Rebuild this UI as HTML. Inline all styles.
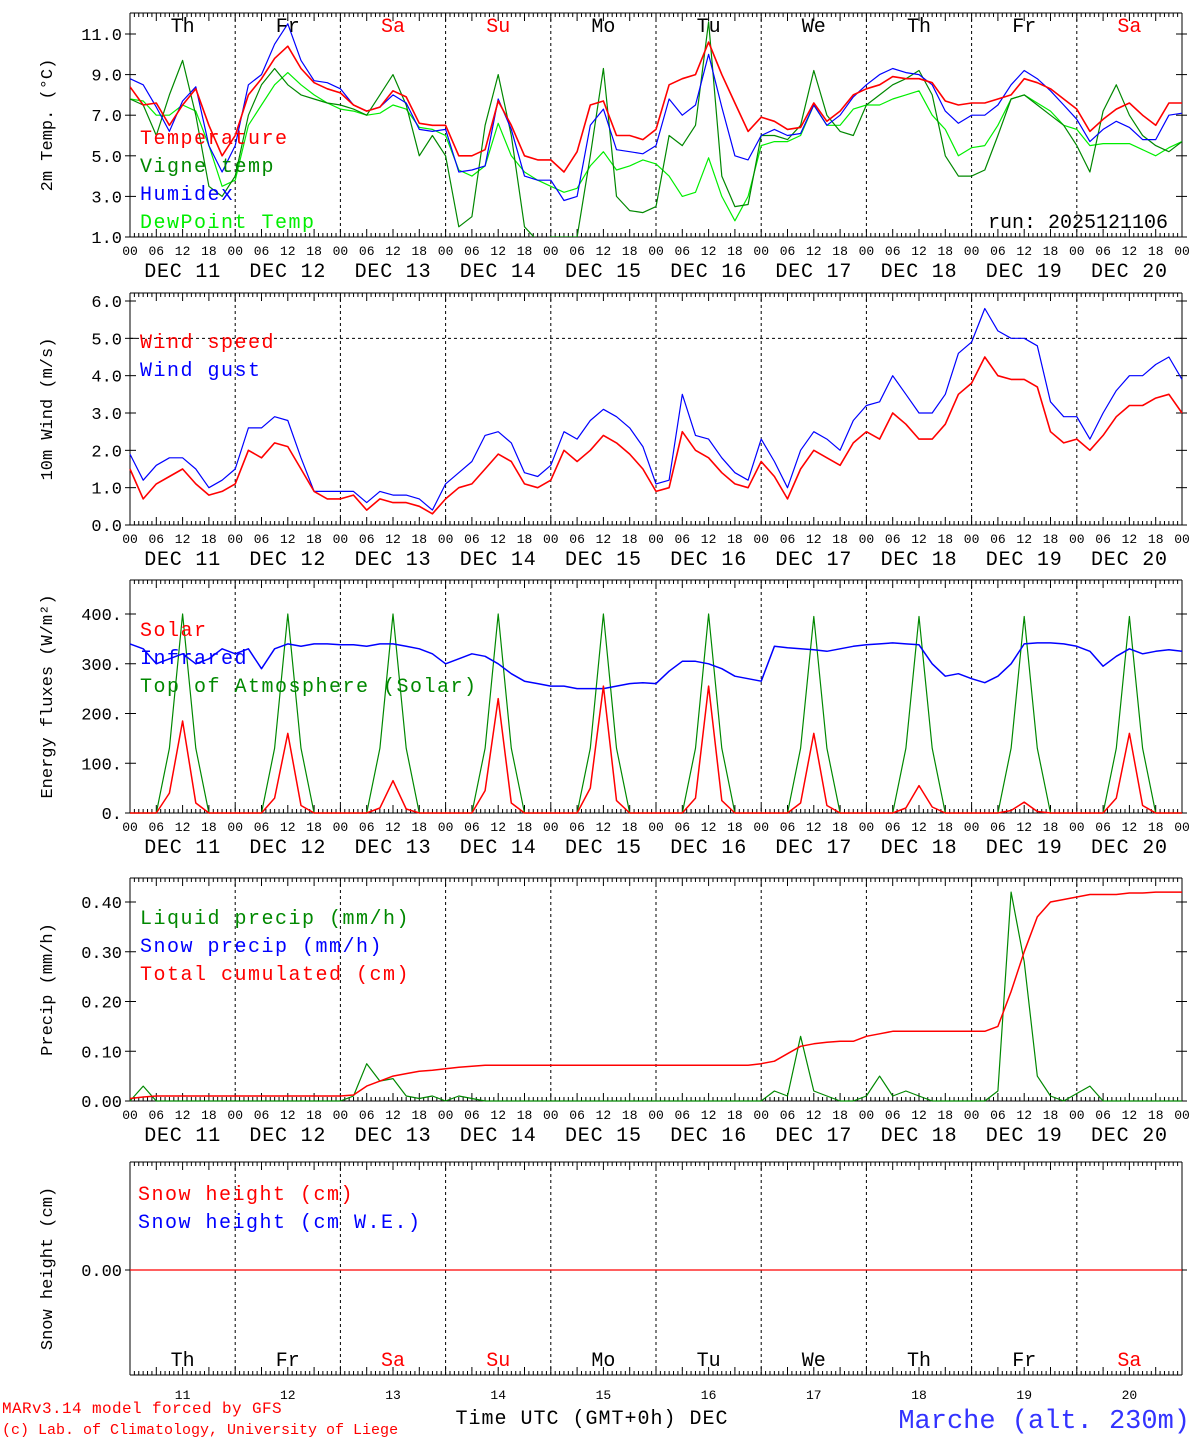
<!DOCTYPE html>
<html><head><meta charset="utf-8"><style>
body{margin:0;background:#fff}
svg{display:block}
text{font-family:"Liberation Serif","DejaVu Serif",serif}
.m{font-family:"Liberation Mono","DejaVu Sans Mono",monospace}
</style></head><body>
<svg id="c" width="1194" height="1440" viewBox="0 0 1194 1440" xmlns="http://www.w3.org/2000/svg"></svg>
<script>
// 3-hourly values starting DEC 11 00 UTC (81 points)
const dayLabels=["DEC 11","DEC 12","DEC 13","DEC 14","DEC 15","DEC 16","DEC 17","DEC 18","DEC 19","DEC 20"];
const dayNames=["Th","Fr","Sa","Su","Mo","Tu","We","Th","Fr","Sa"];
const dayNums=["11","12","13","14","15","16","17","18","19","20"];
const hourTicks=["00","06","12","18"];
const tempTicks=[1,3,5,7,9,11];
const windTicks=[0,1,2,3,4,5,6];
const fluxTicks=[0,100,200,300,400];
const precipTicks=[0,0.1,0.2,0.3,0.4];
const temperature=[8.4,7.5,7.6,6.5,7.5,8.3,6.5,5.0, 6.0,8.0,8.8,9.8,10.4,9.3,8.6,8.3, 8.1,7.5,7.2,7.4,8.2,7.9,6.6,6.5, 6.5,5.0,5.0,5.3,7.7,6.5,5.0,4.8, 4.8,4.2,5.2,7.5,7.7,6.0,6.0,5.8, 6.3,8.5,8.8,9.0,10.6,9.0,7.6,6.2, 6.9,6.7,6.3,6.4,7.6,6.7,7.2,8.0, 8.3,8.5,8.9,8.8,8.8,8.6,7.7,7.5, 7.6,7.6,7.8,8.0,8.8,8.6,8.3,7.8, 7.3,6.2,6.8,7.3,7.6,7.0,6.5,7.6,7.6];
const humidex=[8.8,8.5,7.4,6.2,7.7,8.4,5.5,4.2, 5.5,8.5,9.0,10.5,11.5,9.7,8.7,8.6, 8.3,7.5,7.2,7.4,8.0,7.6,6.3,6.2, 6.3,4.2,4.3,4.5,7.8,6.3,4.0,3.8, 3.8,2.8,3.0,6.5,7.3,5.3,5.2,5.1, 5.5,7.8,7.0,7.5,10.0,7.4,5.0,4.8, 6.0,6.3,6.0,6.1,7.5,6.5,7.0,7.9, 8.5,9.0,9.3,9.1,9.0,8.5,7.2,6.6, 7.0,7.0,7.5,8.5,9.2,8.8,8.2,7.5, 6.8,5.7,6.3,6.7,6.4,5.8,5.8,7.0,7.1];
const vigneTemp=[7.8,7.5,6.0,8.0,9.7,7.0,3.5,3.0, 4.0,7.0,8.5,9.3,8.5,8.0,7.8,7.6, 7.5,7.3,7.0,8.0,9.0,7.5,5.0,6.0, 5.0,1.5,2.0,6.5,9.0,6.0,1.5,0.8, 1.0,1.0,1.0,5.0,9.3,3.0,2.3,2.2, 2.5,6.0,5.5,6.5,11.6,4.0,2.5,2.6, 6.0,6.0,5.8,6.5,9.2,7.0,6.2,6.0, 7.5,8.0,8.5,8.8,9.2,8.0,5.0,4.0, 4.0,4.3,6.0,7.8,8.0,7.5,7.0,6.5, 5.5,4.2,7.2,8.5,7.0,6.0,5.5,5.2,5.7];
const dewPoint=[7.8,7.7,7.0,7.0,7.5,7.2,5.5,3.5, 3.8,6.5,7.5,8.5,9.1,8.5,8.0,7.6, 7.3,7.2,7.0,7.1,7.5,7.3,6.4,6.3, 6.0,4.3,4.0,4.5,6.6,5.0,4.2,3.8, 3.5,3.2,3.4,4.5,5.2,4.3,4.5,4.8, 4.6,4.0,3.0,3.2,4.9,3.0,1.8,3.0, 5.5,5.7,5.7,6.0,7.5,6.5,6.5,7.3, 7.5,7.5,7.8,8.0,8.2,7.0,6.3,5.0, 5.4,5.5,6.5,7.8,8.0,7.6,7.2,6.5, 6.3,5.5,5.6,5.6,5.6,5.3,5.0,5.4,5.7];
const windSpeed=[1.5,0.7,1.1,1.3,1.5,1.1,0.8,0.9, 1.1,2.0,1.8,2.2,2.1,1.5,0.9,0.7, 0.7,0.8,0.4,0.7,0.6,0.6,0.5,0.3, 0.7,1.0,1.1,1.5,1.9,1.7,1.1,1.0, 1.2,2.0,1.7,2.0,2.4,2.2,1.9,1.5, 0.9,1.0,2.5,2.0,1.8,1.4,1.1,1.0, 1.7,1.3,0.7,1.5,2.0,1.8,1.6,2.2, 2.5,2.3,3.0,2.7,2.3,2.3,2.7,3.5, 3.8,4.5,4.0,3.9,3.9,3.7,2.5,2.2, 2.3,2.0,2.4,2.9,3.2,3.2,3.4,3.5,3.0];
const windGust=[1.9,1.2,1.6,1.8,1.8,1.5,1.0,1.2, 1.5,2.6,2.6,2.9,2.8,1.8,0.9,0.9, 0.9,0.9,0.6,0.9,0.8,0.8,0.7,0.4, 1.1,1.4,1.7,2.4,2.5,2.2,1.4,1.3, 1.6,2.5,2.3,2.8,3.1,2.9,2.6,2.1, 1.1,1.2,3.5,2.4,2.3,1.8,1.4,1.2, 2.3,1.7,1.0,2.0,2.5,2.3,2.0,2.8, 3.2,3.3,4.0,3.5,3.0,3.0,3.5,4.6, 4.9,5.8,5.2,5.0,5.0,4.8,3.3,2.9, 2.9,2.3,3.0,3.6,4.0,4.0,4.3,4.5,3.9];
const infrared=[340,330,300,310,320,300,310,330, 320,330,290,330,340,335,340,340, 338,338,335,340,340,335,330,320, 300,310,320,315,300,280,265,260, 255,255,250,250,250,255,260,262, 260,285,305,305,300,290,275,270, 265,335,332,330,328,325,330,335, 338,340,342,340,338,300,275,280, 270,262,275,300,340,342,342,340, 335,325,295,315,330,320,325,328,325];
const solar=[0,0,0,40,185,20,0,0, 0,0,0,30,160,15,0,0, 0,0,0,10,65,8,0,0, 0,0,0,45,230,20,0,0, 0,0,0,50,255,25,0,0, 0,0,0,30,255,25,0,0, 0,0,0,20,160,15,0,0, 0,0,0,10,55,12,0,0, 0,0,0,5,22,3,0,0, 0,0,0,30,160,15,0,0,0];
const toaSolar=[0,0,0,130,400,130,0,0, 0,0,0,130,400,130,0,0, 0,0,0,130,400,130,0,0, 0,0,0,130,400,130,0,0, 0,0,0,130,400,130,0,0, 0,0,0,130,400,130,0,0, 0,0,0,130,395,130,0,0, 0,0,0,130,395,130,0,0, 0,0,0,130,395,130,0,0, 0,0,0,130,395,130,0,0,0];
const liquidPrecip=[0,0.03,0,0,0,0,0,0, 0,0,0,0,0,0,0,0, 0,0.01,0.075,0.04,0.045,0.01,0.005,0.01, 0,0.01,0.005,0,0,0,0,0, 0,0,0,0,0,0,0,0, 0,0,0,0,0,0,0,0, 0,0.02,0.01,0.13,0.02,0.01,0,0, 0.01,0.05,0.01,0.02,0.01,0,0,0, 0,0,0.02,0.42,0.28,0.05,0.01,0, 0.015,0.03,0,0,0,0,0,0,0];
const totalCumul=[0.005,0.008,0.01,0.01,0.01,0.01,0.01,0.01, 0.01,0.01,0.01,0.01,0.01,0.01,0.01,0.01, 0.01,0.012,0.03,0.04,0.05,0.055,0.06,0.062, 0.065,0.068,0.07,0.072,0.072,0.072,0.072,0.072, 0.072,0.072,0.072,0.072,0.072,0.072,0.072,0.072, 0.072,0.072,0.072,0.072,0.072,0.072,0.072,0.072, 0.075,0.08,0.095,0.11,0.115,0.118,0.12,0.12, 0.13,0.135,0.14,0.14,0.14,0.14,0.14,0.14, 0.14,0.14,0.15,0.22,0.30,0.37,0.40,0.405, 0.41,0.415,0.415,0.415,0.418,0.418,0.42,0.42,0.42];

const svg=document.getElementById('c');
const NS='http://www.w3.org/2000/svg';
const X0=130,X1=1182,DW=(X1-X0)/10;
function el(tag,attrs,parent){const e=document.createElementNS(NS,tag);for(const k in attrs)e.setAttribute(k,attrs[k]);(parent||svg).appendChild(e);return e;}
function tx(s,x,y,size,fill,anchor,parent,ls){const t=el('text',{x:x,y:y,'font-size':size,fill:fill,'text-anchor':anchor||'start','class':'m'},parent);if(ls)t.setAttribute('letter-spacing',ls);t.textContent=s;return t;}
function xOf(i){return X0+i*3*DW/24;}

function panel(name,top,bot,vmin,vmax,ticks,fmt,ylab,ytop,ybot,opts){
  const g=el('g',{});
  
  
  const y=v=>ybot-(v-vmin)/(vmax-vmin)*(ybot-ytop);
  el('line',{x1:X0,y1:top,x2:X0,y2:bot,stroke:'#000','stroke-width':1},g);
  el('line',{x1:X1,y1:top,x2:X1,y2:bot,stroke:'#000','stroke-width':1},g);
  el('line',{x1:X0,y1:top,x2:X1,y2:top,stroke:'#000','stroke-width':1},g);
  el('line',{x1:X0,y1:bot,x2:X1,y2:bot,stroke:'#000','stroke-width':1},g);
  for(let h=0;h<=240;h++){const x=X0+h*DW/24;const L=h%6==0?8:4;
    el('line',{x1:x,y1:top,x2:x,y2:top+L,stroke:'#000','stroke-width':1},g);
    el('line',{x1:x,y1:bot,x2:x,y2:bot-L,stroke:'#000','stroke-width':1},g);}
  for(let d=1;d<10;d++){const x=X0+d*DW;el('line',{x1:x,y1:top,x2:x,y2:bot,stroke:'#000','stroke-width':1,'stroke-dasharray':'3,3'},g);}
  ticks.forEach(v=>{const yy=y(v);
    el('line',{x1:X0-5,y1:yy,x2:X0+6,y2:yy,stroke:'#000'},g);
    el('line',{x1:X1-6,y1:yy,x2:X1+5,y2:yy,stroke:'#000'},g);
    const t=tx(fmt(v),X0-8,yy+6,17,'#000','end',g);
    });
  const yt=tx(ylab,52,(top+bot)/2,17,'#000','middle',g);
  yt.setAttribute('transform','rotate(-90 52 '+((top+bot)/2)+')');
  
  if(opts&&opts.xlabels){
    for(let d=0;d<10;d++){for(let k=0;k<4;k++){tx(hourTicks[k],X0+d*DW+k*DW/4,bot+18,13,'#000','middle',g);}
      const dl=tx(dayLabels[d],X0+d*DW+DW/2,bot+40,20,'#000','middle',g,'0.8');
      }
    tx('00',X1,bot+18,13,'#000','middle',g);
  }
  return {g,y};
}
function series(p,data,color,name,w){
  const pts=data.map((v,i)=>xOf(i).toFixed(1)+','+p.y(v).toFixed(1)).join(' ');
  const l=el('polyline',{points:pts,fill:'none',stroke:color,'stroke-width':w||1.2,'stroke-linejoin':'round'},p.g);
  
  
}
function legend(p,items,x,y0,step){items.forEach((it,i)=>{const t=tx(it[0],x,y0+i*step,20,it[1],'start',p.g,'1.5');});}

const clipT=el('clipPath',{id:'cp1'});el('rect',{x:X0,y:13,width:X1-X0,height:224},clipT);
const p1=panel('temperature-panel',13,237,1,11,tempTicks,v=>v.toFixed(1),'2m Temp. (\u00B0C)',34,237,{xlabels:true});
const s1=el('g',{'clip-path':'url(#cp1)'},p1.g);const p1s={g:s1,y:p1.y};
series(p1s,dewPoint,'#00ee00','dewpoint-line');
series(p1s,vigneTemp,'#008800','vigne-temp-line');
series(p1s,humidex,'#0000ff','humidex-line');
series(p1s,temperature,'#ff0000','temperature-line',1.6);
dayNames.forEach((n,d)=>{const c=(n=='Sa'||n=='Su')?'#ff0000':'#000';const t=tx(n,X0+d*DW+DW/2,32,20,c,'middle',p1.g);});
legend(p1,[['Temperature','#ff0000'],['Vigne temp','#008800'],['Humidex','#0000ff'],['DewPoint Temp','#00ee00']],140,144,28);
tx('run: 2025121106',1168,228,20,'#000','end',p1.g);

const p2=panel('wind-panel',293,525,0,6,windTicks,v=>v.toFixed(1),'10m Wind (m/s)',301,525,{xlabels:true});
el('line',{x1:X0,y1:p2.y(5),x2:X1,y2:p2.y(5),stroke:'#000','stroke-dasharray':'3,3'},p2.g);
series(p2,windGust,'#0000ff','wind-gust-line');
series(p2,windSpeed,'#ff0000','wind-speed-line',1.6);
legend(p2,[['Wind speed','#ff0000'],['Wind gust','#0000ff']],140,348,28);

const p3=panel('energy-flux-panel',580,813,0,400,fluxTicks,v=>v.toFixed(0)+'.','Energy fluxes (W/m\u00B2)',614,813,{xlabels:true});
series(p3,toaSolar,'#008800','toa-solar-line');
series(p3,infrared,'#0000ff','infrared-line',1.5);
series(p3,solar,'#ff0000','solar-line',1.5);
legend(p3,[['Solar','#ff0000'],['Infrared','#0000ff'],['Top of Atmosphere (Solar)','#008800']],140,636,28);

const p4=panel('precip-panel',878,1101,0,0.4,precipTicks,v=>v.toFixed(2),'Precip (mm/h)',902,1101,{xlabels:true});
series(p4,liquidPrecip,'#008800','liquid-precip-line');
series(p4,totalCumul,'#ff0000','total-cumulated-line',1.5);
legend(p4,[['Liquid precip (mm/h)','#008800'],['Snow precip (mm/h)','#0000ff'],['Total cumulated (cm)','#ff0000']],140,924,28);

const p5=panel('snow-panel',1162,1375,-1,1,[0],v=>v.toFixed(2),'Snow height (cm)',1162,1378,{});
el('line',{x1:X0,y1:1270,x2:X1,y2:1270,stroke:'#ff0000','stroke-width':1.3},p5.g);
legend(p5,[['Snow height (cm)','#ff0000'],['Snow height (cm W.E.)','#0000ff']],138,1200,28);
dayNames.forEach((n,d)=>{const c=(n=='Sa'||n=='Su')?'#ff0000':'#000';tx(n,X0+d*DW+DW/2,1366,20,c,'middle',p5.g);
  tx(dayNums[d],X0+d*DW+DW/2,1399,13,'#000','middle',p5.g);});
tx('Time UTC (GMT+0h) DEC',592,1424,20,'#000','middle',null,'1');
tx('MARv3.14 model forced by GFS',2,1413,16,'#ff0000','start',null,'0.4');
tx('(c) Lab. of Climatology, University of Liege',2,1434,15,'#ff0000','start');
tx('Marche (alt. 230m)',1190,1428,27,'#3333ff','end');
</script>
</body></html>
